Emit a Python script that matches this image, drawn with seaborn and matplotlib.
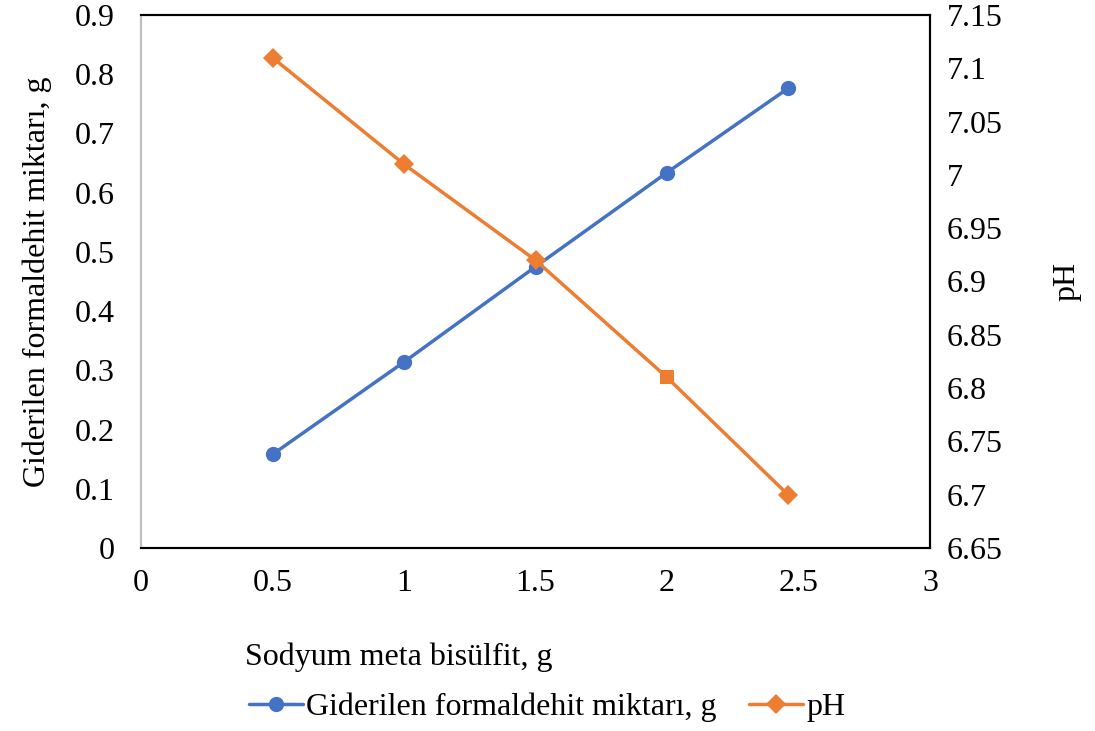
import matplotlib
matplotlib.use("Agg")
import matplotlib.pyplot as plt
import seaborn as sns
import pandas as pd
from matplotlib.lines import Line2D

sns.set_theme(style="white")
plt.rcParams['font.family'] = ['Liberation Serif', 'DejaVu Serif']
plt.rcParams['text.color'] = 'black'

x_vals = [0.5, 1.0, 1.5, 2.0, 2.46]
removed = [0.158, 0.314, 0.475, 0.634, 0.776]
ph = [7.11, 7.01, 6.92, 6.81, 6.70]
x_ticks = [0, 0.5, 1, 1.5, 2, 2.5, 3]
x_ticklabels = ["0", "0.5", "1", "1.5", "2", "2.5", "3"]
left_ticks = [0, 0.1, 0.2, 0.3, 0.4, 0.5, 0.6, 0.7, 0.8, 0.9]
right_ticks = [6.65, 6.7, 6.75, 6.8, 6.85, 6.9, 6.95, 7.0, 7.05, 7.1, 7.15]
right_ticklabels = ["6.65", "6.7", "6.75", "6.8", "6.85", "6.9", "6.95", "7", "7.05", "7.1", "7.15"]

blue = "#4472C4"
orange = "#ED7D31"
fs = 23

df = pd.DataFrame({"x": x_vals, "removed": removed, "ph": ph})

fig = plt.figure(figsize=(10.95, 7.31), dpi=100)
ax = fig.add_axes([141/1095, 1-548/731, (930-141)/1095, (548-15)/731])
ax2 = ax.twinx()

sns.lineplot(data=df, x="x", y="removed", ax=ax, color=blue, lw=2.5,
             marker="o", markersize=11, markeredgewidth=0)
sns.lineplot(data=df, x="x", y="ph", ax=ax2, color=orange, lw=2.5,
             marker="D", markersize=10.5, markeredgewidth=0, markevery=[0, 1, 2, 4])
sq = df.iloc[[3]]
sns.scatterplot(data=sq, x="x", y="ph", ax=ax2, color=orange, marker="s", s=105, linewidth=0)

ax.set_xlim(0, 3)
ax.set_ylim(0, 0.9)
ax2.set_ylim(6.65, 7.15)
ax.set_xticks(x_ticks)
ax.set_xticklabels(x_ticklabels, fontsize=fs)
ax.set_yticks(left_ticks)
ax.set_yticklabels([f"{t:g}" for t in left_ticks], fontsize=fs)
ax2.set_yticks(right_ticks)
ax2.set_yticklabels(right_ticklabels, fontsize=fs)
ax.tick_params(axis="x", length=0, pad=15, colors="black")
ax.tick_params(axis="y", length=0, pad=19, colors="black")
ax2.tick_params(axis="y", length=0, pad=12, colors="black")

ax.set_xlabel("")
ax.set_ylabel("Giderilen formaldehit miktarı, g", fontsize=fs, color="black", labelpad=16)
ax2.set_ylabel("pH", fontsize=fs, color="black", labelpad=36)

for a in (ax, ax2):
    for s in a.spines.values():
        s.set_visible(True)
        s.set_color("black")
        s.set_linewidth(1.5)
ax2.spines["left"].set_color("#BFBFBF")
ax.spines["left"].set_color("#BFBFBF")
ax.grid(False)
ax2.grid(False)

fig.text(245/1095, 1-657/731, "Sodyum meta bisülfit, g", fontsize=fs, ha="left", va="center", color="black")

handles = [
    Line2D([], [], color=blue, lw=2.5, marker="o", markersize=11, markeredgewidth=0),
    Line2D([], [], color=orange, lw=2.5, marker="D", markersize=10.5, markeredgewidth=0),
]
leg = fig.legend(handles, ["Giderilen formaldehit miktarı, g", "pH"], loc="center",
                 bbox_to_anchor=(547/1095, 1-707/731), ncol=2, frameon=False, fontsize=fs,
                 handlelength=1.7, handletextpad=0.1, columnspacing=1.0)
for t in leg.get_texts():
    t.set_color("black")

fig.savefig("out.png", dpi=100)
